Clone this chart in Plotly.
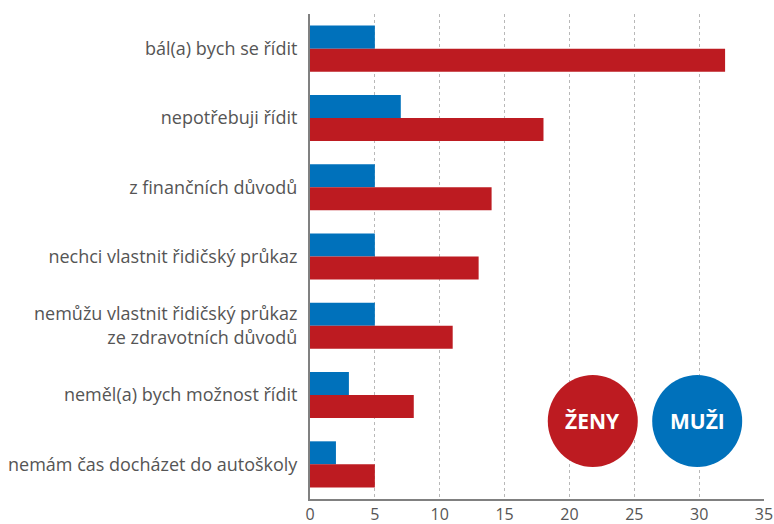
import plotly.graph_objects as go

categories = [
    "bál(a) bych se řídit",
    "nepotřebuji řídit",
    "z finančních důvodů",
    "nechci vlastnit řidičský průkaz",
    "nemůžu vlastnit řidičský průkaz<br>ze zdravotních důvodů",
    "neměl(a) bych možnost řídit",
    "nemám čas docházet do autoškoly",
]
muzi = [5, 7, 5, 5, 5, 3, 2]
zeny = [32, 18, 14, 13, 11, 8, 5]
x_ticks = [0, 5, 10, 15, 20, 25, 30, 35]

BLUE = "#0071BB"
RED = "#BD1B21"
FONT = "Open Sans"

fig = go.Figure()
fig.add_trace(go.Bar(y=categories, x=muzi, orientation="h", name="MUŽI",
                     marker=dict(color=BLUE, line=dict(width=0))))
fig.add_trace(go.Bar(y=categories, x=zeny, orientation="h", name="ŽENY",
                     marker=dict(color=RED, line=dict(width=0))))

fig.update_layout(
    width=774, height=524,
    margin=dict(l=310, r=10, t=14, b=25),
    paper_bgcolor="white", plot_bgcolor="white",
    barmode="group", bargap=0.335, bargroupgap=0,
    showlegend=False,
    font=dict(family=FONT, color="#555555"),
    xaxis=dict(range=[0, 35], tickvals=x_ticks, showgrid=True, automargin=False,
               gridcolor="#b8b8b8", griddash="3px,3px", gridwidth=1,
               zeroline=False, showline=True, linecolor="#808080", linewidth=2,
               ticks="", tickfont=dict(size=16, color="#555555"), fixedrange=True),
    yaxis=dict(autorange="reversed", showgrid=False, zeroline=False, automargin=False,
               showline=True, linecolor="#808080", linewidth=2,
               ticks="", ticklabelstandoff=7, fixedrange=True,
               tickfont=dict(size=18, color="#555555")),
)

for label, color, xc in [("ŽENY", RED, 21.8), ("MUŽI", BLUE, 29.85)]:
    fig.add_shape(type="circle", xref="x", yref="paper",
                  xsizemode="pixel", ysizemode="pixel",
                  xanchor=xc, yanchor=(499 - 421) / 485,
                  x0=-45, x1=45, y0=-46, y1=46,
                  fillcolor=color, line=dict(width=0), layer="above")
    fig.add_annotation(x=xc, y=(499 - 421) / 485, xref="x", yref="paper",
                       text="<b>%s</b>" % label, showarrow=False,
                       yanchor="middle",
                       font=dict(family=FONT, size=21, color="white"))

fig.write_html("out.html", config={"displayModeBar": False},
               post_script="document.body.style.margin='0';document.body.style.padding='0';")
